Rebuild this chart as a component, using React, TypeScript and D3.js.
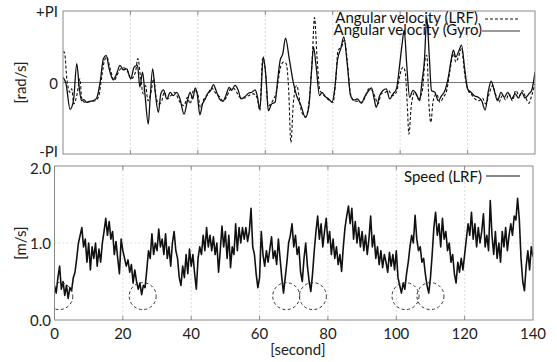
import * as d3 from 'd3';

const W = 557;
const H = 362;

const xTicks = [0, 20, 40, 60, 80, 100, 120, 140];
const angTickValues = [Math.PI, 0, -Math.PI];
const angTickLabels = ['+PI', '0', '-PI'];
const speedTicks = [0, 1, 2];
const speedTickLabels = ['0.0', '1.0', '2.0'];

// angular velocity, gyro [rad/s]
const gyroTime = [
  0, 0.9, 2.1, 3.1, 4.1, 4.8, 5.5, 6.2, 7, 8, 9, 10, 11, 12, 12.8, 13.7, 14.9, 15.9, 16.9, 17.9,
  18.9, 20.1, 21.1, 22.1, 22.8, 23.6, 24.3, 25.3, 25.8, 26.6, 27.3, 28.3, 29, 29.8, 30.8, 31.8,
  32.7, 33.7, 34.7, 35.9, 36.9, 37.7, 38.5, 39.2, 39.8, 40.6, 41.4, 42.2, 43, 43.8, 44.6, 45.4,
  46.4, 47.4, 48.3, 49.3, 50, 51, 52, 52.8, 54, 55, 56, 57, 57.6, 58.4, 59.4, 60.2, 60.9, 61.9,
  62.9, 63.6, 64.4, 65.2, 66, 67.1, 68.3, 69.3, 70.5, 71.9, 72.9, 73.7, 74.3, 75.1, 76.1, 76.8,
  77.8, 78.8, 79.8, 80.6, 81.4, 82.4, 83.3, 84.3, 85.3, 86.3, 87.3, 88.5, 89.5, 90.7, 91.5, 92.3,
  92.9, 93.9, 94.9, 95.9, 96.9, 97.9, 98.9, 99.9, 100.6, 101.2, 102, 102.8, 103.8, 104.8, 105.8,
  106.4, 107.2, 107.9, 108.6, 109.3, 110.3, 111.3, 112.3, 113.3, 114.3, 115.1, 115.8, 116.5,
  117.3, 118.2, 119.2, 120, 121, 122, 123.2, 124.2, 125.2, 126.2, 127, 127.9, 128.9, 129.9, 130.9,
  131.9, 133.1, 134.1, 135.1, 136.1, 137, 138.2, 139, 140,
];
const gyroVal = [
  0.22, -0.06, -1.18, -0.8, 0.83, -0.2, -0.8, -0.75, -0.87, -0.83, -0.8, -0.68, 0.0, 1.05, 1.19,
  0.6, 0.12, 0.38, 0.75, 0.56, 0.6, 0.16, 0.68, 0.75, -0.2, 0.46, -0.5, -1.83, -0.8, 0.6, -0.35,
  -1.31, -0.5, -0.32, -0.72, -0.43, -0.58, -0.43, -0.72, -1.39, -0.8, -0.43, -0.72, -0.24, -0.5,
  -1.42, -0.94, -0.72, -0.47, -0.35, -0.09, -0.35, -0.72, -0.83, -0.58, -0.21, -0.35, -0.13,
  -0.35, -0.72, -0.62, -0.47, -0.43, -0.32, -0.58, -1.17, 1.12, 0.24, -1.24, -0.94, -0.87, 0.01,
  0.97, 1.27, 1.95, 1.05, 0.01, -0.58, -0.98, -1.53, -1.09, 0.46, 1.56, 0.68, -0.58, -0.43,
  -0.62, -0.72, -0.87, -0.28, 0.97, 1.49, 2.0, 0.83, -0.58, -0.77, -0.72, -0.91, -0.62, -0.35,
  -0.24, -0.72, -1.09, -0.58, -0.35, -0.28, -0.72, -0.5, -0.28, 0.83, 1.71, 2.3, 0.68, -0.65,
  -0.35, -0.5, -0.8, -0.06, 0.97, 2.85, 1.27, -0.35, -0.43, -0.8, -0.58, -0.35, 0.24, 0.97,
  1.42, 1.12, 1.34, 1.64, 0.53, -0.28, -0.43, -0.58, -0.65, -0.8, -1.21, -0.35, 0.06, -0.35,
  -0.8, -0.43, -0.65, -0.43, -0.72, -0.5, -0.68, -0.43, -0.68, -0.5, -0.35, 0.45,
];

// angular velocity, LRF [rad/s]
const lrfTime = [
  0, 0.4, 1.2, 2, 2.6, 3.2, 4.2, 5, 5.6, 6.5, 8, 9.5, 10.5, 11.5, 12.3, 13, 14, 15.2, 16, 17.1,
  18, 19, 20.2, 21.5, 22.2, 23, 23.8, 24.5, 25.2, 26, 26.9, 27.6, 28.5, 29.3, 30, 31, 32, 33, 34,
  34.7, 35.9, 36.9, 37.7, 38.7, 39.8, 40.8, 41.8, 43, 44.1, 45.1, 46.4, 47.4, 48.5, 49.5, 50.5,
  51.5, 52.5, 54, 55, 56.5, 57.6, 58.4, 59.2, 59.9, 60.9, 62.2, 63.4, 64.4, 65.4, 66.2, 66.9,
  67.6, 68.3, 69.3, 70.7, 71.9, 72.9, 73.9, 74.6, 75.4, 76.2, 77.1, 78.1, 79.1, 80.1, 80.8, 81.6,
  82.6, 83.5, 84.3, 85.3, 86.3, 87.5, 88.5, 89.5, 90.7, 91.7, 92.6, 93.4, 94.4, 95.6, 96.6, 97.6,
  98.9, 99.9, 100.9, 101.5, 102.1, 102.6, 103.3, 104.3, 105.4, 106.6, 107.4, 107.9, 108.6, 109.1,
  109.8, 110.8, 111.8, 112.8, 113.8, 114.8, 115.8, 116.5, 117.3, 118.2, 119.2, 120.2, 121.2,
  122.2, 123.4, 124.4, 125.4, 126.4, 127.4, 128.3, 129.3, 130.3, 131.3, 132.3, 133.3, 134.3,
  135.3, 136.3, 137.2, 138.2, 139, 140,
];
const lrfVal = [
  1.34, 1.34, 0.09, -0.43, -0.28, -0.94, -0.5, 0.16, -0.72, -0.87, -0.83, -0.8, -0.65, 0.24,
  0.97, 1.12, 0.6, 0.09, 0.31, 0.6, 0.65, 0.53, 0.16, 0.46, 1.05, 0.24, -0.5, -0.13, -0.8, -0.5,
  0.16, -0.65, -0.94, -0.8, -0.43, -0.72, -0.58, -0.43, -0.65, -0.87, -1.02, -0.65, -0.94, -0.35,
  -0.43, -1.09, -0.72, -0.5, -0.24, -0.43, -0.62, -0.8, -0.65, -0.32, -0.24, -0.43, -0.65, -0.68,
  -0.58, -0.5, -0.68, -1.24, 1.05, 0.68, -1.02, -0.8, -0.35, 0.6, 0.9, 0.83, -0.21, -2.64, -0.94,
  -0.13, -1.24, -1.51, -0.94, 0.97, 2.85, 0.97, -0.35, -0.5, -0.68, -0.8, -0.87, -0.09, 1.42,
  1.56, 1.86, 0.97, -0.5, -0.8, -0.83, -0.87, -0.68, -0.28, -0.35, -0.65, -0.94, -0.5, -0.43,
  -0.35, -0.58, -0.43, 0.31, 0.68, 0.46, -0.94, -2.27, -1.02, -0.43, -0.72, -0.35, 1.0, 1.2,
  -1.09, -1.75, -0.8, -0.5, -0.87, -0.65, -0.35, 0.53, 1.27, 0.9, 1.12, 1.49, 0.31, -0.35, -0.53,
  -0.72, -0.8, -0.68, -0.94, -0.5, -0.13, -0.5, -0.87, -0.58, -0.77, -0.5, -0.8, -0.35, -0.58,
  -0.35, -0.65, -0.91, -0.58, -0.06,
];

// speed, LRF [m/s], one sample every 0.5 s from t = 0
const speedStep = 0.5;
const speedVal = [
  0.45, 0.35, 0.55, 0.7, 0.4, 0.5, 0.32, 0.45, 0.28, 0.42, 0.38, 0.55, 0.62, 0.8, 1.0, 1.1, 1.2,
  0.95, 1.05, 0.75, 1.0, 0.65, 0.95, 0.8, 1.0, 0.7, 0.92, 0.75, 1.0, 1.15, 1.32, 1.1, 1.28, 1.05,
  1.15, 0.85, 1.02, 0.8, 0.6, 1.05, 0.9, 0.8, 0.7, 0.78, 0.62, 0.72, 0.48, 0.65, 0.5, 0.4, 0.48,
  0.33, 0.45, 0.42, 0.65, 0.9, 0.8, 1.12, 0.85, 1.0, 0.9, 1.18, 0.95, 1.05, 0.85, 1.12, 0.8, 0.95,
  0.7, 1.0, 1.15, 0.9, 0.8, 0.55, 0.45, 0.7, 0.55, 0.85, 0.6, 0.92, 0.7, 0.85, 0.6, 0.4, 0.8,
  0.95, 0.85, 1.1, 0.9, 1.2, 0.95, 1.1, 0.9, 1.08, 0.85, 1.0, 0.62, 0.9, 1.22, 0.95, 1.15, 0.8,
  1.1, 0.68, 0.95, 0.85, 1.25, 0.9, 1.2, 1.0, 1.2, 1.05, 1.2, 1.02, 1.15, 1.45, 0.95, 0.85, 0.6,
  0.42, 0.55, 1.15, 0.85, 0.7, 0.9, 0.75, 0.92, 1.08, 0.8, 0.9, 0.72, 1.05, 0.8, 0.55, 0.35, 0.55,
  0.75, 1.0, 1.1, 1.25, 0.95, 1.1, 0.85, 0.95, 0.62, 0.5, 0.8, 1.0, 0.7, 0.5, 0.37, 0.6, 0.9,
  1.15, 1.35, 1.05, 1.25, 0.95, 1.15, 1.32, 1.0, 1.15, 0.85, 1.05, 0.8, 0.95, 0.72, 0.85, 0.63,
  0.95, 1.2, 1.35, 1.48, 1.25, 1.45, 1.05, 1.28, 1.0, 1.2, 0.95, 1.15, 0.9, 1.1, 0.85, 1.05, 1.35,
  0.95, 1.1, 0.8, 0.95, 0.72, 0.9, 0.68, 0.85, 0.75, 0.62, 0.88, 0.7, 0.85, 0.65, 0.9, 0.55, 0.45,
  0.35, 0.48, 0.4, 0.6, 0.75, 0.95, 1.1, 1.0, 1.36, 1.05, 0.9, 0.95, 0.75, 0.8, 0.6, 0.45, 0.35,
  0.55, 0.85, 1.2, 1.4, 1.1, 1.25, 0.95, 1.32, 1.05, 1.15, 0.9, 1.0, 0.75, 0.85, 0.6, 0.48, 0.75,
  0.62, 0.8, 0.65, 0.85, 1.05, 1.25, 1.1, 1.4, 1.05, 1.25, 0.95, 1.2, 1.0, 1.15, 1.38, 0.95, 1.1,
  0.9, 1.55, 1.1, 0.85, 1.15, 0.8, 1.0, 0.75, 1.15, 0.95, 1.2, 0.9, 1.1, 1.25, 1.1, 1.35, 1.3,
  1.58, 1.3, 0.8, 0.5, 0.38, 0.7, 0.9, 0.65, 0.95, 0.82,
];

// dashed circles marking the stops
const stopTimes = [1.4, 25.8, 67.8, 75.6, 102.7, 110];
const stopLevel = 0.31;

const FONT = 'Lato, sans-serif';
const FRAME = '#8a8a8a';
const GRID = '#d2d2d2';

export default function App() {
  // top panel
  const xA = d3.scaleLinear().domain([0, 140]).range([63, 535]);
  const yA = d3.scaleLinear().domain([-Math.PI, Math.PI]).range([154, 11]);
  // bottom panel
  const xS = d3.scaleLinear().domain([0, 140]).range([54.5, 533]);
  const yS = d3.scaleLinear().domain([0, 2]).range([320, 166]);

  const gyroPts = gyroTime.map((t, i) => [t, gyroVal[i]] as [number, number]);
  const lrfPts = lrfTime.map((t, i) => [t, lrfVal[i]] as [number, number]);
  const speedPts = speedVal.map((v, i) => [i * speedStep, v] as [number, number]);

  const angLine = d3.line<[number, number]>()
    .x((d) => xA(d[0]))
    .y((d) => yA(d[1]))
    .curve(d3.curveMonotoneX);
  const speedLine = d3.line<[number, number]>()
    .x((d) => xS(d[0]))
    .y((d) => yS(d[1]));

  const [a0, a1] = xA.range();
  const [aB, aT] = yA.range();
  const [s0, s1] = xS.range();
  const [sB, sT] = yS.range();

  return (
    <svg width={W} height={H} style={{ position: 'absolute', left: 0, top: 0, background: '#fff' }}
      fontFamily={FONT}>
      <defs>
        <clipPath id="clipA"><rect x={a0} y={aT} width={a1 - a0} height={aB - aT} /></clipPath>
        <clipPath id="clipS"><rect x={s0} y={sT} width={s1 - s0} height={sB - sT} /></clipPath>
      </defs>

      {/* ---- top panel: angular velocity ---- */}
      {xTicks.slice(1, -1).map((t) => (
        <line key={'ga' + t} x1={xA(t)} x2={xA(t)} y1={aT} y2={aB}
          stroke={GRID} strokeWidth={0.8} strokeDasharray="2,2" />
      ))}
      {xTicks.slice(1, -1).map((t) => (
        <g key={'ta' + t} stroke={FRAME} strokeWidth={1}>
          <line x1={xA(t)} x2={xA(t)} y1={aB} y2={aB - 4} />
          <line x1={xA(t)} x2={xA(t)} y1={aT} y2={aT + 4} />
        </g>
      ))}
      <line x1={a0} x2={a1} y1={yA(0)} y2={yA(0)} stroke="#777" strokeWidth={1} />
      <g clipPath="url(#clipA)" fill="none" stroke="#111">
        <path d={angLine(lrfPts) ?? ''} strokeWidth={1.1} strokeDasharray="3,2" />
        <path d={angLine(gyroPts) ?? ''} strokeWidth={1.3} />
      </g>
      <rect x={a0} y={aT} width={a1 - a0} height={aB - aT} fill="none" stroke={FRAME} strokeWidth={1} />
      {angTickValues.map((v, i) => (
        <text key={'la' + i} x={58} y={yA(v) + (i === 2 ? -3 : 0)} textAnchor="end"
          dominantBaseline="central" fontSize={15} fill="#222">{angTickLabels[i]}</text>
      ))}
      <text transform={`translate(20,${yA(0)}) rotate(-90)`} textAnchor="middle"
        dominantBaseline="central" fontSize={15} fill="#222">[rad/s]</text>

      {/* legend, top */}
      <text x={478} y={23} textAnchor="end" fontSize={15} fill="#111">Angular velocity (LRF)</text>
      <line x1={485} x2={520} y1={19} y2={19} stroke="#111" strokeWidth={1} strokeDasharray="3,2" />
      <text x={482} y={35} textAnchor="end" fontSize={15} fill="#111">Angular velocity (Gyro)</text>
      <line x1={482} x2={520} y1={31} y2={31} stroke="#777" strokeWidth={1.5} />

      {/* ---- bottom panel: speed ---- */}
      {xTicks.slice(1, -1).map((t) => (
        <line key={'gs' + t} x1={xS(t)} x2={xS(t)} y1={sT} y2={sB}
          stroke={GRID} strokeWidth={0.8} strokeDasharray="2,2" />
      ))}
      <line x1={s0} x2={s1} y1={yS(1)} y2={yS(1)} stroke={GRID} strokeWidth={0.8} strokeDasharray="2,2" />
      {xTicks.slice(1, -1).map((t) => (
        <g key={'ts' + t} stroke={FRAME} strokeWidth={1}>
          <line x1={xS(t)} x2={xS(t)} y1={sB} y2={sB - 4} />
          <line x1={xS(t)} x2={xS(t)} y1={sT} y2={sT + 4} />
        </g>
      ))}
      <g clipPath="url(#clipS)">
        <path d={speedLine(speedPts) ?? ''} fill="none" stroke="#111" strokeWidth={1.6}
          strokeLinejoin="round" />
        {stopTimes.map((t) => (
          <circle key={'c' + t} cx={xS(t)} cy={yS(stopLevel)} r={13.5} fill="none"
            stroke="#333" strokeWidth={1} strokeDasharray="3,2.5" />
        ))}
      </g>
      <rect x={s0} y={sT} width={s1 - s0} height={sB - sT} fill="none" stroke={FRAME} strokeWidth={1} />
      {speedTicks.map((v, i) => (
        <text key={'ls' + v} x={51} y={yS(v) + (i === 2 ? 2 : 0)} textAnchor="end"
          dominantBaseline="central" fontSize={15} fill="#222">{speedTickLabels[i]}</text>
      ))}
      {xTicks.map((t) => (
        <text key={'lx' + t} x={xS(t)} y={333} textAnchor="middle" dominantBaseline="central"
          fontSize={15} fill="#222">{t}</text>
      ))}
      <text x={298} y={355} textAnchor="middle" fontSize={15} fill="#222">[second]</text>
      <text transform={`translate(20,${yS(1)}) rotate(-90)`} textAnchor="middle"
        dominantBaseline="central" fontSize={15} fill="#222">[m/s]</text>

      {/* legend, bottom */}
      <text x={482} y={182} textAnchor="end" fontSize={15} fill="#111">Speed (LRF)</text>
      <line x1={486} x2={520} y1={176} y2={176} stroke="#111" strokeWidth={1} />
    </svg>
  );
}
